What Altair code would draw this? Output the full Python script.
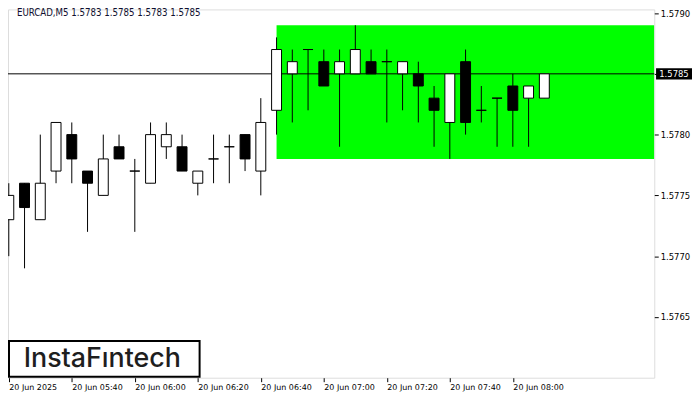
import json
import altair as alt
import pandas as pd

# ---------------- data ----------------
symbol_title = "EURCAD,M5  1.5783 1.5785 1.5783 1.5785"
brand = "InstaFıntech"

times = ["05:20", "05:25", "05:30", "05:35", "05:40", "05:45", "05:50", "05:55",
         "06:00", "06:05", "06:10", "06:15", "06:20", "06:25", "06:30", "06:35",
         "06:40", "06:45", "06:50", "06:55", "07:00", "07:05", "07:10", "07:15",
         "07:20", "07:25", "07:30", "07:35", "07:40", "07:45", "07:50", "07:55",
         "08:00", "08:05", "08:10"]
opens = [1.5773, 1.5776, 1.5773, 1.5777, 1.5780, 1.5777, 1.5775, 1.5779,
         1.5777, 1.5776, 1.5779, 1.5779, 1.5776, 1.5778, 1.5779, 1.5780,
         1.5777, 1.5782, 1.5785, 1.5787, 1.5786, 1.5785, 1.5785, 1.5786,
         1.5786, 1.5785, 1.5785, 1.5783, 1.5781, 1.5786, 1.5782, 1.5783,
         1.5784, 1.5783, 1.5783]
highs = [1.5776, 1.5776, 1.5780, 1.5781, 1.5781, 1.5777, 1.5780, 1.5780,
         1.5778, 1.5781, 1.5781, 1.5780, 1.5777, 1.5780, 1.5780, 1.5780,
         1.5783, 1.5788, 1.5787, 1.5787, 1.5787, 1.5787, 1.5789, 1.5787,
         1.5787, 1.5786, 1.5786, 1.5784, 1.5785, 1.5787, 1.5784, 1.5783,
         1.5785, 1.5784, 1.5785]
lows = [1.5770, 1.5769, 1.5773, 1.5776, 1.5776, 1.5772, 1.5775, 1.5778,
        1.5772, 1.5776, 1.5778, 1.5777, 1.5775, 1.5776, 1.5776, 1.5777,
        1.5775, 1.5780, 1.5781, 1.5782, 1.5784, 1.5779, 1.5785, 1.5785,
        1.5781, 1.5782, 1.5781, 1.5779, 1.5778, 1.5780, 1.5781, 1.5779,
        1.5779, 1.5779, 1.5783]
closes = [1.5775, 1.5774, 1.5776, 1.5781, 1.5778, 1.5776, 1.5778, 1.5778,
          1.5777, 1.5780, 1.5780, 1.5777, 1.5777, 1.5778, 1.5779, 1.5778,
          1.5781, 1.5787, 1.5786, 1.5787, 1.5784, 1.5786, 1.5787, 1.5785,
          1.5786, 1.5786, 1.5784, 1.5782, 1.5785, 1.5781, 1.5782, 1.5783,
          1.5782, 1.5784, 1.5785]

tick_times = ["05:20", "05:40", "06:00", "06:20", "06:40", "07:00", "07:20", "07:40", "08:00"]
tick_labels = ["20 Jun 2025", "20 Jun 05:40", "20 Jun 06:00", "20 Jun 06:20", "20 Jun 06:40",
               "20 Jun 07:00", "20 Jun 07:20", "20 Jun 07:40", "20 Jun 08:00"]
price_ticks = [1.5765, 1.5770, 1.5775, 1.5780, 1.5785, 1.5790]

zone_start = "06:45"
zone_high = 1.5789
zone_low = 1.5778

# ---------------- tables ----------------
df = pd.DataFrame({
    "idx": list(range(len(times))),
    "time": times,
    "open": opens, "high": highs, "low": lows, "close": closes,
})
df["dir"] = ["up" if c >= o else "down" for o, c in zip(opens, closes)]

zone_df = pd.DataFrame({"idx": [times.index(zone_start)], "top": [zone_high], "bottom": [zone_low]})
last_df = pd.DataFrame({"price": [closes[-1]], "label": [f"{closes[-1]:.4f}"]})
note_df = pd.DataFrame({"t": [symbol_title], "brand": [brand]})

tick_vals = [times.index(t) for t in tick_times]

W, H = 651, 371
AXIS_FONT = "DejaVu Sans"

x_scale = alt.Scale(domain=[-0.05, 40.98], nice=False, zero=False, padding=0)
y_scale = alt.Scale(domain=[1.5760, 1.57903], nice=False, zero=False, padding=0)

x_axis = alt.Axis(
    values=tick_vals,
    labelExpr=f"{json.dumps(tick_labels)}[indexof({json.dumps(tick_vals)}, datum.value)]",
    title=None, grid=False, domain=False, tickSize=4, tickColor="black",
    labelAlign="left", labelBaseline="top", labelPadding=2, labelFont=AXIS_FONT,
    labelFontSize=8, labelColor="black", labelOverlap=False, labelFlush=False, labelBound=False,
)
y_axis = alt.Axis(
    values=price_ticks, format=".4f", orient="right",
    title=None, grid=False, domain=False, tickSize=4, tickColor="black",
    labelPadding=2, labelFont=AXIS_FONT, labelFontSize=8.5, labelColor="black",
    labelBaseline="middle", labelOverlap=False, labelFlush=False, labelBound=False,
)

X = lambda f: alt.X(f, type="quantitative", scale=x_scale, axis=x_axis)
Y = lambda f: alt.Y(f, type="quantitative", scale=y_scale, axis=y_axis)

zone = alt.Chart(zone_df).mark_rect(color="#00FF00", clip=True).encode(
    x=X("idx"), x2=alt.value(W), y=Y("top"), y2="bottom"
)

hline = alt.Chart(last_df).mark_rule(color="black", strokeWidth=1).encode(y=Y("price"))

wicks = alt.Chart(df).mark_rule(color="black", strokeWidth=1, clip=True).encode(
    x=X("idx"), y=Y("low"), y2="high"
)

bodies = alt.Chart(df).mark_bar(size=10, stroke="black", strokeWidth=1, clip=True).encode(
    x=X("idx"), y=Y("open"), y2="close",
    color=alt.Color("dir:N", scale=alt.Scale(domain=["up", "down"], range=["white", "black"]), legend=None),
)

tag_box = alt.Chart(last_df).mark_point(
    shape="M-1,-0.3L1,-0.3L1,0.3L-1,0.3Z", filled=True, color="black", opacity=1, size=1400
).encode(x=alt.value(W + 20.5), y=Y("price"))

tag_text = alt.Chart(last_df).mark_text(
    align="left", baseline="middle", color="white", font=AXIS_FONT, fontSize=8.5
).encode(x=alt.value(W + 5), y=Y("price"), text="label:N")

title_text = alt.Chart(note_df).mark_text(
    align="left", baseline="top", color="#101030", font="DejaVu Sans Condensed, DejaVu Sans", fontSize=9.7
).encode(x=alt.value(9), y=alt.value(-1), text="t:N")

logo_box = alt.Chart(note_df).mark_rect(fill="white", stroke="black", strokeWidth=2).encode(
    x=alt.value(1), x2=alt.value(193), y=alt.value(334), y2=alt.value(370)
)

logo_text = alt.Chart(note_df).mark_text(
    align="center", baseline="middle", color="#1e1e1e", font="Inter", fontSize=27, fontWeight=500
).encode(x=alt.value(95), y=alt.value(352), text="brand:N")

chart = alt.layer(
    zone, hline, wicks, bodies, tag_box, tag_text, title_text, logo_box, logo_text
).properties(
    width=W, height=H,
    padding={"left": 0, "top": 0, "right": 38, "bottom": 18},
    autosize=alt.AutoSizeParams(type="none"),
).configure_view(stroke="black", strokeWidth=1).configure(background="white")

chart.save("out.html", embed_options={"renderer": "svg", "actions": False})
